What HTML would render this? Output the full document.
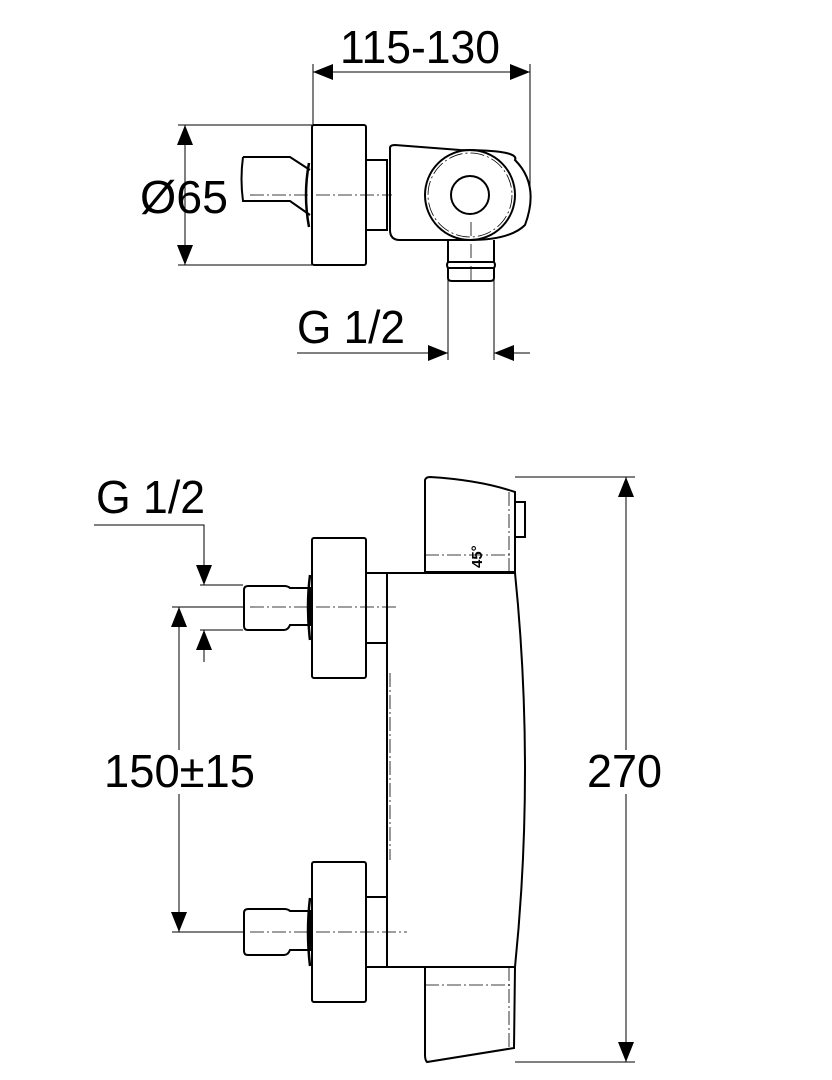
<!DOCTYPE html>
<html><head><style>body{margin:0;background:#fff}svg{display:block}text{font-family:"Liberation Sans",sans-serif;fill:#000}</style></head>
<body>
<svg width="832" height="1080" viewBox="0 0 832 1080" xmlns="http://www.w3.org/2000/svg">
<defs>
<marker id="a" viewBox="0 0 10 10" refX="10" refY="5" markerWidth="20" markerHeight="20" markerUnits="userSpaceOnUse" orient="auto-start-reverse"><path d="M0,1 L10,5 L0,9z" fill="#000"/></marker>
</defs>
<g fill="none" stroke="#000" stroke-width="1">
<line x1="313" y1="72" x2="530" y2="72" marker-start="url(#a)" marker-end="url(#a)"/>
<line x1="313" y1="64" x2="313" y2="125"/>
<line x1="530" y1="64" x2="530" y2="190"/>
<line x1="185" y1="125" x2="185" y2="265" marker-start="url(#a)" marker-end="url(#a)"/>
<line x1="178" y1="125" x2="312" y2="125"/>
<line x1="178" y1="265" x2="312" y2="265"/>
<line x1="297" y1="353" x2="448" y2="353" marker-end="url(#a)"/>
<line x1="530" y1="353" x2="494" y2="353" marker-end="url(#a)"/>
<line x1="448" y1="280" x2="448" y2="360"/>
<line x1="494" y1="280" x2="494" y2="360"/>
</g>
<g fill="none" stroke="#000" stroke-width="2">
<rect x="312" y="125" width="54" height="140" rx="2"/>
<rect x="366" y="160" width="21" height="70"/>
<path d="M243,157 L290,157 L310,170 M243,157 Q240,179 243,201 L290,201 L310,215"/>
<path d="M309,163 Q303,195 309,227" stroke-width="2.5"/>
<path d="M390,148 Q390,145 395,145 L460,150 Q520,150 515,160 Q540,185 525,225 Q510,240 470,240 L400,240 Q390,240 390,230 Z"/>
<circle cx="470" cy="195" r="45"/>
<circle cx="470" cy="195" r="19"/>
<path d="M448,240 L448,262 Q446,265 448,268 L448,278 Q448,281 452,281 L490,281 Q494,281 494,278 L494,268 Q496,265 494,262 L494,240 M448,262 L494,262 M448,268 L494,268"/>
</g>
<g fill="none" stroke="#000" stroke-width="0.8" stroke-dasharray="14,3,2,3">
<line x1="250" y1="195" x2="392" y2="195"/>
<circle cx="470" cy="195" r="42"/>
<line x1="471" y1="222" x2="471" y2="283"/>
</g>
<g fill="none" stroke="#000" stroke-width="1">
<path d="M94,525 L204,525 L204,585" marker-end="url(#a)"/>
<line x1="204" y1="662" x2="204" y2="630" marker-end="url(#a)"/>
<line x1="200" y1="585" x2="243" y2="585"/>
<line x1="200" y1="630" x2="243" y2="630"/>
<line x1="179" y1="607" x2="179" y2="932" marker-start="url(#a)" marker-end="url(#a)"/>
<line x1="172" y1="607" x2="243" y2="607"/>
<line x1="172" y1="932" x2="243" y2="932"/>
<line x1="626" y1="477" x2="626" y2="1062" marker-start="url(#a)" marker-end="url(#a)"/>
<line x1="515" y1="477" x2="635" y2="477"/>
<line x1="515" y1="1062" x2="635" y2="1062"/>
</g>
<g fill="none" stroke="#000" stroke-width="2">
<path d="M425,572 L425,480 Q426,477 430,477 Q480,480 515,492 L515,572 Z"/>
<rect x="515" y="502" width="10" height="35"/>
<path d="M387,573 L515,573 Q535,770 515,967 L387,967 Z"/>
<path d="M425,967 L515,967 L514,1048 Q470,1055 427,1062 Q425,1060 425,1055 Z"/>
<rect x="312" y="538" width="54" height="140" rx="2"/>
<rect x="366" y="573" width="21" height="70"/>
<path d="M284,586 L248,586 Q244,586 244,590 L244,626 Q244,630 248,630 L284,630 Q288,630 290,625 L310,625 L310,588 L290,588 Q288,586 284,586"/>
<path d="M310,575 Q306,607 310,640" stroke-width="2.5"/>
<rect x="312" y="862" width="54" height="140" rx="2"/>
<rect x="366" y="897" width="21" height="70"/>
<path d="M284,909 L248,909 Q244,909 244,913 L244,951 Q244,955 248,955 L284,955 Q288,955 290,950 L310,950 L310,911 L290,911 Q288,909 284,909"/>
<path d="M310,898 Q306,932 310,966" stroke-width="2.5"/>
</g>
<g fill="none" stroke="#000" stroke-width="0.8" stroke-dasharray="14,3,2,3">
<line x1="250" y1="607" x2="397" y2="607"/>
<line x1="250" y1="932" x2="407" y2="932"/>
<line x1="425" y1="555" x2="512" y2="555"/>
<line x1="425" y1="985" x2="512" y2="985"/>
<line x1="509" y1="492" x2="509" y2="572"/>
<line x1="509" y1="967" x2="509" y2="1048"/>
<line x1="390" y1="673" x2="390" y2="860"/>
</g>
<rect x="100" y="750" width="160" height="44" fill="#fff"/>
<rect x="584" y="750" width="82" height="44" fill="#fff"/>
<text x="340" y="63" font-size="46" textLength="160" lengthAdjust="spacingAndGlyphs">115-130</text>
<text x="140" y="213" font-size="46" textLength="88" lengthAdjust="spacingAndGlyphs">Ø65</text>
<text x="297" y="343" font-size="46" textLength="108" lengthAdjust="spacingAndGlyphs">G 1/2</text>
<text x="96" y="513" font-size="46" textLength="109" lengthAdjust="spacingAndGlyphs">G 1/2</text>
<text x="104" y="787" font-size="46" textLength="151" lengthAdjust="spacingAndGlyphs">150±15</text>
<text x="587" y="787" font-size="46" textLength="75" lengthAdjust="spacingAndGlyphs">270</text>
<text x="0" y="0" font-size="15" font-weight="bold" transform="translate(482,568) rotate(-90)">45°</text>
</svg>
</body></html>
